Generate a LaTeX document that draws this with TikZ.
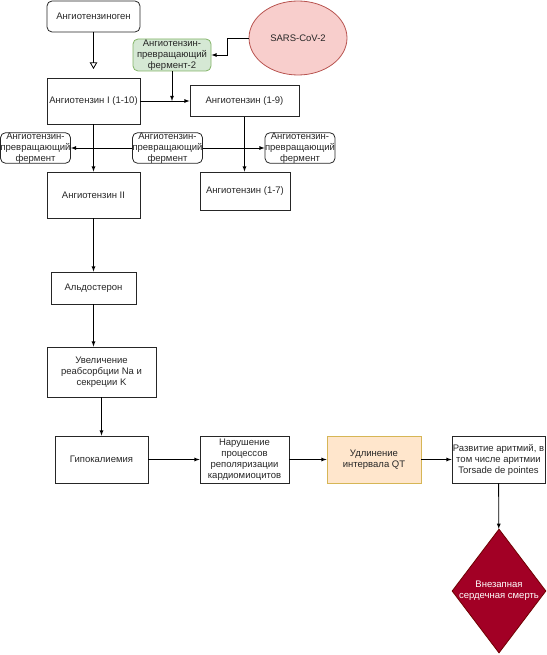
\documentclass[tikz,border=0pt]{standalone}
\usepackage{fontspec}
\setmainfont{Liberation Sans}
\usetikzlibrary{shapes.geometric, arrows}
\definecolor{acefill}{HTML}{D5E8D4}
\definecolor{acedraw}{HTML}{82B366}
\definecolor{virusfill}{HTML}{F8CECC}
\definecolor{virusdraw}{HTML}{B85450}
\definecolor{qtfill}{HTML}{FFE6CC}
\definecolor{qtdraw}{HTML}{D6B656}
\definecolor{deathfill}{HTML}{A20025}
\definecolor{deathdraw}{HTML}{6F0000}
\tikzstyle{box} = [rectangle, draw=black!85, text=black!85, align=center, inner sep=0pt, font=\fontsize{9.5}{11}\selectfont]
\tikzstyle{rbox} = [box, rounded corners=5pt]
\tikzstyle{enzyme} = [rbox, minimum width=69pt, minimum height=30pt]
\tikzstyle{virus} = [ellipse, draw=virusdraw, fill=virusfill, text=black!85, minimum width=98pt, minimum height=74pt, font=\fontsize{9.5}{11}\selectfont]
\tikzstyle{death} = [diamond, draw=deathdraw, fill=deathfill, text=white, align=center, inner sep=-3pt, minimum width=94pt, minimum height=124pt, font=\fontsize{9.5}{11}\selectfont]
\tikzstyle{arrow} = [-latex]
\tikzstyle{openarrow} = [-open triangle 60]

\begin{document}
\begin{tikzpicture}[x=1pt, y=-1pt, line width=0.8pt]
\useasboundingbox (0,0) rectangle (546,655);

\node (agen) [rbox, minimum width=93pt, minimum height=31pt] at (93.5,16.5) {Ангиотензиноген};
\coordinate (agentip) at (93.5,69);
\node (ace2) [rbox, fill=acefill, draw=acedraw, minimum width=78pt, minimum height=32pt] at (172,55) {Ангиотензин-\\превращающий\\фермент-2};
\node (sars) [virus] at (298,38) {SARS-CoV-2};
\node (ang1) [box, minimum width=93pt, minimum height=46pt] at (93.5,101) {Ангиотензин I (1-10)};
\node (ang19) [box, minimum width=109pt, minimum height=31pt] at (244.5,101) {Ангиотензин (1-9)};
\node (acel) [enzyme] at (35.5,148) {Ангиотензин-\\превращающий\\фермент};
\node (acem) [enzyme] at (167.5,148) {Ангиотензин-\\превращающий\\фермент};
\node (acer) [enzyme, minimum width=70pt] at (300,148) {Ангиотензин-\\превращающий\\фермент};
\node (ang2) [box, minimum width=93pt, minimum height=46pt] at (93.5,195) {Ангиотензин II};
\node (ang17) [box, minimum width=90pt, minimum height=38pt] at (245,191) {Ангиотензин (1-7)};
\node (aldo) [box, minimum width=85pt, minimum height=32pt] at (93.5,288) {Альдостерон};
\node (uvel) [box, minimum width=109pt, minimum height=50pt] at (101.5,372) {Увеличение\\реабсорбции Na и\\секреции K};
\node (gipo) [box, minimum width=93pt, minimum height=47pt] at (101.5,459.5) {Гипокалиемия};
\node (narush) [box, minimum width=89pt, minimum height=47pt] at (244.5,459.5) {Нарушение\\процессов\\реполяризации\\кардиомиоцитов};
\node (udl) [box, fill=qtfill, draw=qtdraw, minimum width=94pt, minimum height=47pt] at (374,459.5) {Удлинение\\интервала QT};
\node (razv) [box, minimum width=93pt, minimum height=47pt] at (498.5,459.5) {Развитие аритмий, в\\том числе аритмии\\Torsade de pointes};
\node (sudden) [death] at (499,591) {Внезапная\\сердечная смерть};

\draw [openarrow] (agen) -- (agentip);
\draw [arrow] (sars.west) -- ++(-21,0) |- (ace2.east);
\draw [arrow] (ang1.east) -- (ang19.west);
\draw [arrow] (ace2.south) -- (ace2.south |- ang1.east);
\draw [arrow] (ang1) -- (ang2);
\draw [arrow] (ang19.south) -- (ang19.south |- ang17.north);
\draw [arrow] (acem.west) -- (acel.east);
\draw [arrow] (acem.east) -- (acer.west);
\draw [arrow] (ang2) -- (aldo);
\draw [arrow] (aldo.south) -- (aldo.south |- uvel.north);
\draw [arrow] (uvel) -- (gipo);
\draw [arrow] (gipo) -- (narush);
\draw [arrow] (narush) -- (udl);
\draw [arrow] (udl) -- (razv);
\draw [arrow] (razv) -- (sudden);

\end{tikzpicture}
\end{document}
